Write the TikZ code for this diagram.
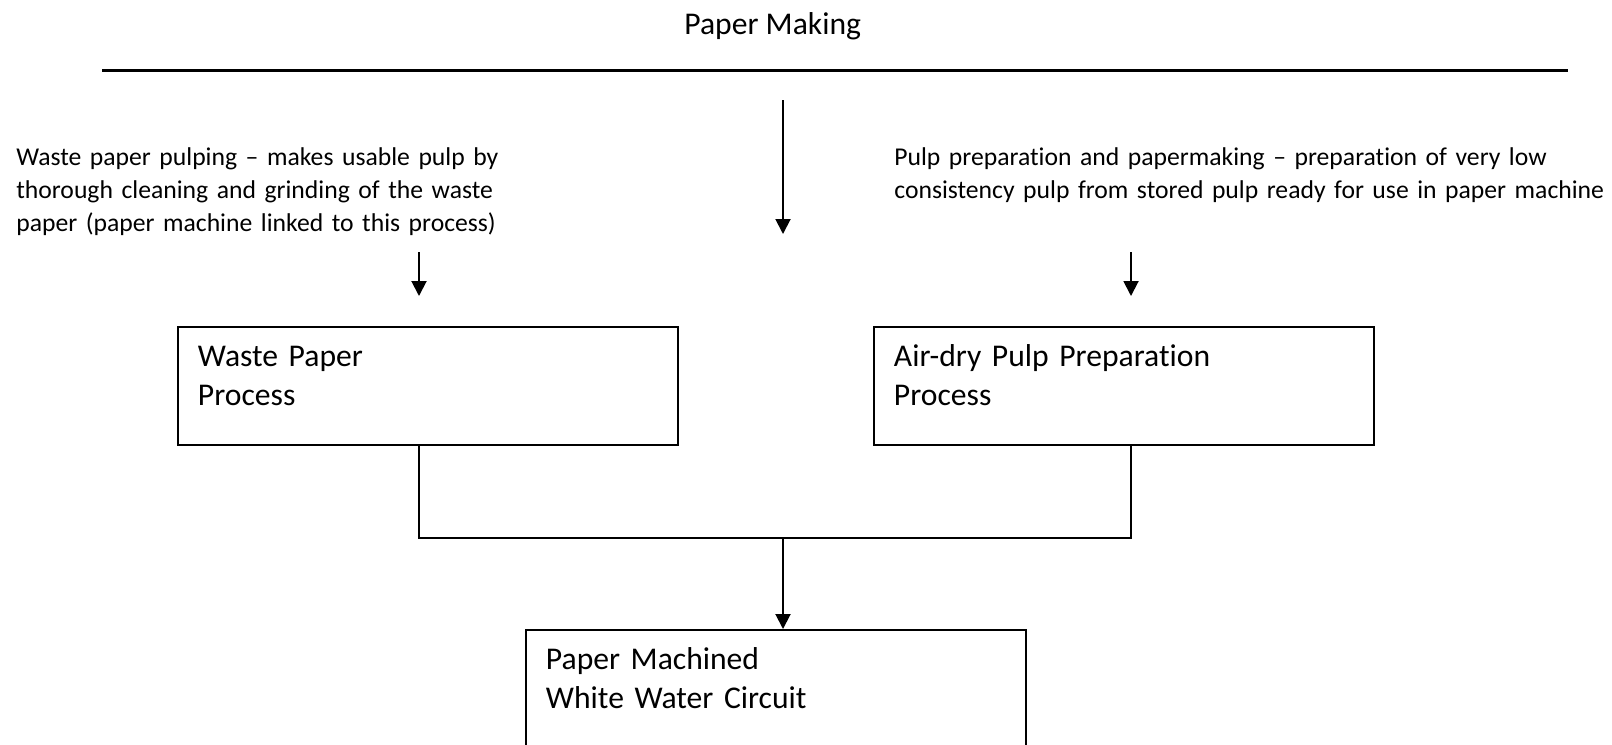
\documentclass[tikz,border=0pt]{standalone}
\usepackage{fontspec}
\setmainfont{Carlito}[Ligatures=NoCommon]
\newfontfamily\notefont{Carlito}[Ligatures=NoCommon, WordSpace=0.6]
\usetikzlibrary{arrows.meta,positioning,calc}

\begin{document}
\begin{tikzpicture}[
  procbox/.style={draw, line width=1.1pt, anchor=north west, align=left,
                  text width=9.2cm, inner xsep=0.4cm, inner ysep=0pt,
                  text height=0.80cm, text depth=#1,
                  font=\fontsize{18}{22.1}\selectfont},
  procbox/.default=1.56cm,
  note/.style={anchor=base west, align=left, inner sep=0pt, text width=#1,
               font=\notefont\fontsize{14.6}{18.8}\selectfont},
  flow/.style={-{Triangle[length=3mm,width=3mm]}, line width=1.1pt},
  joint/.style={line width=1.6pt}
]
\clip (0,0) rectangle (32.24,-14.88);

% Heading and rule
\node[anchor=base west, inner sep=0pt, font=\fontsize{18}{22}\selectfont]
  (title) at (13.68,-0.68) {Paper Making};
\coordinate (ruleL) at (2.04,-1.40);
\coordinate (ruleR) at (31.36,-1.40);
\draw[line width=1.7pt] (ruleL) -- (ruleR);

% Centre arrow under the rule
\coordinate (midTop) at (15.66,-2.00);
\coordinate (midTip) at (15.66,-4.68);
\draw[flow] (midTop) -- (midTip);

% Process descriptions
\node[note=12cm] (wpnote) at (0.32,-3.30)
  {Waste paper pulping – makes usable pulp by\\
   thorough cleaning and grinding of the waste\\
   paper (paper machine linked to this process)};
\node[note=14.2cm] (adnote) at (17.88,-3.30)
  {Pulp preparation and papermaking – preparation of very low\\
   consistency pulp from stored pulp ready for use in paper machine};

% Process boxes
\node[procbox] (wpp) at (3.54,-6.52) {Waste Paper\\Process};
\node[procbox] (adp) at (17.46,-6.52) {Air-dry Pulp Preparation\\Process};

% Arrows into the boxes
\coordinate (wpTop) at (8.38,-5.04);
\coordinate (wpTip) at (8.38,-5.92);
\coordinate (adTop) at (22.62,-5.04);
\coordinate (adTip) at (22.62,-5.92);
\draw[flow] (wpTop) -- (wpTip);
\draw[flow] (adTop) -- (adTip);

% Joining line and white water circuit
\node[procbox=2.8cm] (pmw) at (10.50,-12.58)
  {Paper Machined\\White Water Circuit};
\coordinate (wpDrop) at (8.38,-10.76);
\coordinate (adDrop) at (22.62,-10.76);
\coordinate (joinMid) at (15.66,-10.76);
\draw[joint] (wpDrop |- wpp.south) -- (wpDrop) -- (adDrop) -- (adDrop |- adp.south);
\draw[flow] (joinMid) -- (joinMid |- pmw.north);

\end{tikzpicture}
\end{document}
